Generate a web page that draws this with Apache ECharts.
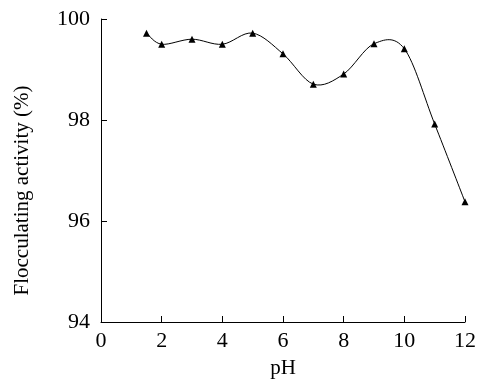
<!DOCTYPE html>
<html><head><meta charset="utf-8">
<script src="https://cdn.jsdelivr.net/npm/echarts@6/dist/echarts.min.js"></script>
<style>html,body{margin:0;padding:0;background:#fff}#c{width:479px;height:384px}</style>
</head><body><div id="c"></div>
<script>
const phValues = [1.5, 2, 3, 4, 5, 6, 7, 8, 9, 10, 11, 12];
const activity = [99.72, 99.5, 99.6, 99.5, 99.72, 99.31, 98.71, 98.91, 99.51, 99.41, 97.92, 96.38];
const xTicks = [0, 2, 4, 6, 8, 10, 12];
const yTicks = [94, 96, 98, 100];

const font = '"Liberation Serif", "Times New Roman", serif';
const points = phValues.map((x, i) => [x, activity[i]]);
const chart = echarts.init(document.getElementById('c'));
chart.setOption({
  animation: false,
  backgroundColor: '#fff',
  grid: { left: 101, right: 13, top: 19, bottom: 60 },
  xAxis: {
    type: 'value', min: xTicks[0], max: xTicks[xTicks.length - 1], interval: 2,
    name: 'pH', nameLocation: 'middle', nameGap: 36,
    nameTextStyle: { fontFamily: font, fontSize: 21, color: '#000' },
    axisLine: { lineStyle: { color: '#000', width: 1 } },
    axisTick: { inside: true, length: 6, lineStyle: { color: '#000' } },
    axisLabel: { fontFamily: font, fontSize: 22, color: '#000', margin: 8 },
    splitLine: { show: false }
  },
  yAxis: {
    type: 'value', min: yTicks[0], max: yTicks[yTicks.length - 1], interval: 2,
    name: 'Flocculating activity (%)', nameLocation: 'middle', nameGap: 68,
    nameTextStyle: { fontFamily: font, fontSize: 21, color: '#000', padding: [0, 40, 0, 0] },
    axisLine: { show: true, lineStyle: { color: '#000', width: 1 } },
    axisTick: { show: true, inside: true, length: 6, lineStyle: { color: '#000' } },
    axisLabel: { fontFamily: font, fontSize: 22, color: '#000', margin: 11 },
    splitLine: { show: false }
  },
  series: [{
    type: 'custom',
    data: [0],
    silent: true,
    renderItem: function (params, api) {
      const c = points.map(p => api.coord(p));
      const n = c.length;
      let d = 'M' + c[0][0] + ',' + c[0][1];
      for (let i = 0; i < n - 1; i++) {
        const p0 = c[Math.max(i - 1, 0)], p1 = c[i], p2 = c[i + 1], p3 = c[Math.min(i + 2, n - 1)];
        const c1x = p1[0] + (p2[0] - p0[0]) / 6, c1y = p1[1] + (p2[1] - p0[1]) / 6;
        const c2x = p2[0] - (p3[0] - p1[0]) / 6, c2y = p2[1] - (p3[1] - p1[1]) / 6;
        d += ' C' + c1x + ',' + c1y + ' ' + c2x + ',' + c2y + ' ' + p2[0] + ',' + p2[1];
      }
      return {
        type: 'path',
        shape: { pathData: d },
        style: { fill: null, stroke: '#000', lineWidth: 1 }
      };
    }
  }, {
    type: 'line',
    data: points,
    symbol: 'triangle', symbolSize: 7,
    itemStyle: { color: '#000' },
    lineStyle: { opacity: 0 }
  }]
});
</script></body></html>
